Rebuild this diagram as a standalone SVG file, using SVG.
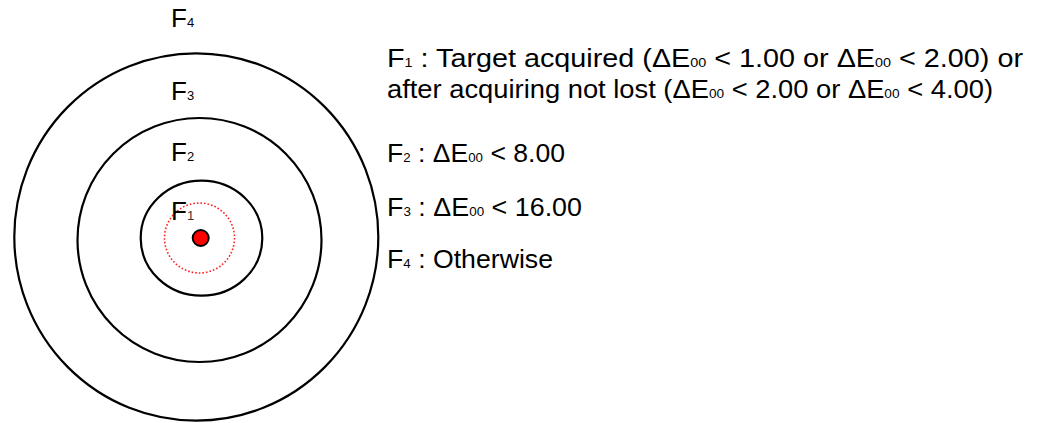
<svg xmlns="http://www.w3.org/2000/svg" width="1040" height="423" viewBox="0 0 1040 423">
<style>
.ring{fill:none;stroke:#000;stroke-width:2.2}
.lbl{font-family:"Liberation Sans",Arial,sans-serif;font-size:26px;fill:#000}
.txt{font-family:"Liberation Sans",Arial,sans-serif;font-size:26px;fill:#000}
.sub{font-size:13px}
.subg{font-size:13px;fill:#333}
</style>
<rect width="1040" height="423" fill="#fff"/>
<g id="zone-F4">
<ellipse class="ring" cx="196.3" cy="237" rx="182" ry="183.7"/>
<text class="lbl" x="171" y="27">F<tspan class="sub">4</tspan></text>
</g>
<g id="zone-F3">
<circle class="ring" cx="199.5" cy="240" r="122"/>
<text class="lbl" x="171" y="99.5">F<tspan class="sub">3</tspan></text>
</g>
<g id="zone-F2">
<ellipse class="ring" cx="201.5" cy="238.2" rx="60.8" ry="57.5"/>
<text class="lbl" x="171" y="161">F<tspan class="sub">2</tspan></text>
</g>
<g id="zone-F1">
<circle cx="199.5" cy="238" r="35" fill="none" stroke="#f22" stroke-width="1.6" stroke-dasharray="1.6 2"/>
<text class="lbl" x="171" y="220">F<tspan class="subg">1</tspan></text>
</g>
<g id="target">
<circle cx="200.7" cy="238" r="8" fill="#f00" stroke="#000" stroke-width="2"/>
</g>
<g id="legend">
<text class="txt" x="387" y="66.5" textLength="636" lengthAdjust="spacingAndGlyphs">F<tspan class="sub">1</tspan> : Target acquired (ΔE<tspan class="sub">00</tspan> &lt; 1.00 or ΔE<tspan class="sub">00</tspan> &lt; 2.00) or</text>
<text class="txt" x="387" y="97.5" textLength="606" lengthAdjust="spacingAndGlyphs">after acquiring not lost (ΔE<tspan class="sub">00</tspan> &lt; 2.00 or ΔE<tspan class="sub">00</tspan> &lt; 4.00)</text>
<text class="txt" x="387" y="161.7" textLength="178" lengthAdjust="spacingAndGlyphs">F<tspan class="sub">2</tspan> : ΔE<tspan class="sub">00</tspan> &lt; 8.00</text>
<text class="txt" x="387" y="216" textLength="195" lengthAdjust="spacingAndGlyphs">F<tspan class="sub">3</tspan> : ΔE<tspan class="sub">00</tspan> &lt; 16.00</text>
<text class="txt" x="387" y="267.7" textLength="166" lengthAdjust="spacingAndGlyphs">F<tspan class="sub">4</tspan> : Otherwise</text>
</g>
</svg>
